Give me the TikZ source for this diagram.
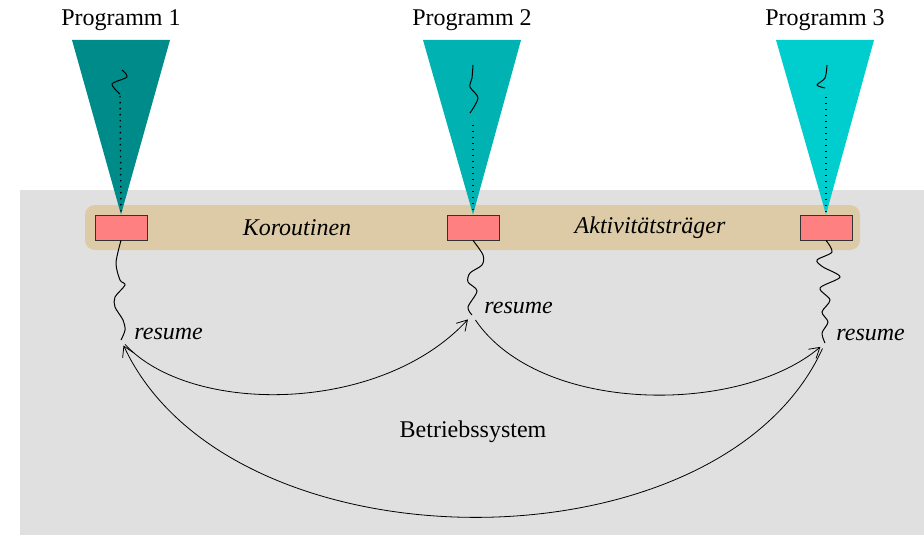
\documentclass[tikz,border=0pt]{standalone}
\usepackage{fontspec}
\setmainfont{Liberation Serif}
\usetikzlibrary{arrows.meta,positioning,calc}
\definecolor{prog1}{RGB}{0,139,139}
\definecolor{prog2}{RGB}{0,178,178}
\definecolor{prog3}{RGB}{0,206,206}
\definecolor{bsgray}{RGB}{224,224,224}
\definecolor{kotan}{RGB}{220,203,166}
\definecolor{koro}{RGB}{255,128,128}
\tikzstyle{kbox} = [rectangle, draw=black!80, fill=koro, minimum width=26pt, minimum height=12.5pt, inner sep=0pt]
\tikzstyle{title} = [inner sep=0pt, font=\fontsize{12}{14}\selectfont]
\tikzstyle{lbl} = [inner sep=0pt, font=\fontsize{12}{14}\selectfont\itshape]
\tikzstyle{thread} = [draw, line width=0.5pt]
\tikzstyle{switch} = [draw, thin, -{Straight Barb[length=5pt,width=6pt]}, shorten <=3pt, shorten >=3pt]

\begin{document}
\begin{tikzpicture}[x=0.5pt, y=-0.5pt]
	\useasboundingbox (0,0) rectangle (924,535);
	%Background
	\fill[bsgray] (20,190) rectangle (924,535);
	\fill[kotan, rounded corners=5pt] (85,205) rectangle (860,250);

	%Place nodes
	\node [kbox] (k1) at (121,227.5) {};
	\node [kbox] (k2) at (473,227.5) {};
	\node [kbox] (k3) at (826,227.5) {};
	\node [title] (p1) at (121,20) {Programm 1};
	\node [title] (p2) at (472,20) {Programm 2};
	\node [title] (p3) at (825,20) {Programm 3};
	\node [lbl] (koro) at (297,228) {Koroutinen};
	\node [lbl] (akt) at (650,228) {Aktivitätsträger};
	\node [title] (bs) at (473,432) {Betriebssystem};
	\coordinate (r1) at (121,340);
	\coordinate (r2) at (472,315);
	\coordinate (r3) at (825,343);
	\node [lbl, anchor=west] (res1) at ($(r1)+(13,-6)$) {resume};
	\node [lbl, anchor=west] (res2) at ($(r2)+(12,-7)$) {resume};
	\node [lbl, anchor=west] (res3) at ($(r3)+(11,-8)$) {resume};

	%Programs
	\fill [prog1] (72,40) -- (170,40) -- (k1.north) -- cycle;
	\fill [prog2] (423,40) -- (521,40) -- (k2.north) -- cycle;
	\fill [prog3] (776,40) -- (874,40) -- (k3.north) -- cycle;
	\path [thread] plot[smooth] coordinates {(122,70) (127,77) (112,84) (120,94)};
	\path [thread] plot[smooth] coordinates {(473,65) (472,78) (470,87) (478,98) (470,113)};
	\path [thread] plot[smooth] coordinates {(827,65) (825,78) (817,85) (825,88)};
	\path [thread, line width=0.7pt, dash pattern=on 0.7pt off 2.3pt] (120,96) -- (k1.north);
	\path [thread, line width=0.7pt, dash pattern=on 0.7pt off 2.3pt] (473,125) -- (k2.north);
	\path [thread, line width=0.7pt, dash pattern=on 0.7pt off 2.3pt] (826,97) -- (k3.north);

	%Threads below
	\path [thread] plot[smooth] coordinates {(k1.south) (116,263) (120,280) (125,285) (115,297) (115,307) (123,320) (125,330) (r1)};
	\path [thread] plot[smooth] coordinates {(k2.south) (483,255) (482,265) (470,273) (468,282) (477,291) (468,307) (r2)};
	\path [thread] plot[smooth] coordinates {(k3.south) (832,252) (817,260) (823,267) (840,277) (820,288) (830,300) (822,312) (828,322) (822,333) (r3)};

	\path [switch] (r1) .. controls +(69,75) and +(-92,100) .. (r2);
	\path [switch] (r2) .. controls +(68,100) and +(-85,72) .. (r3);
	\path [switch] (r3) .. controls +(-105,231) and +(109,234) .. (r1);
\end{tikzpicture}
\end{document}
